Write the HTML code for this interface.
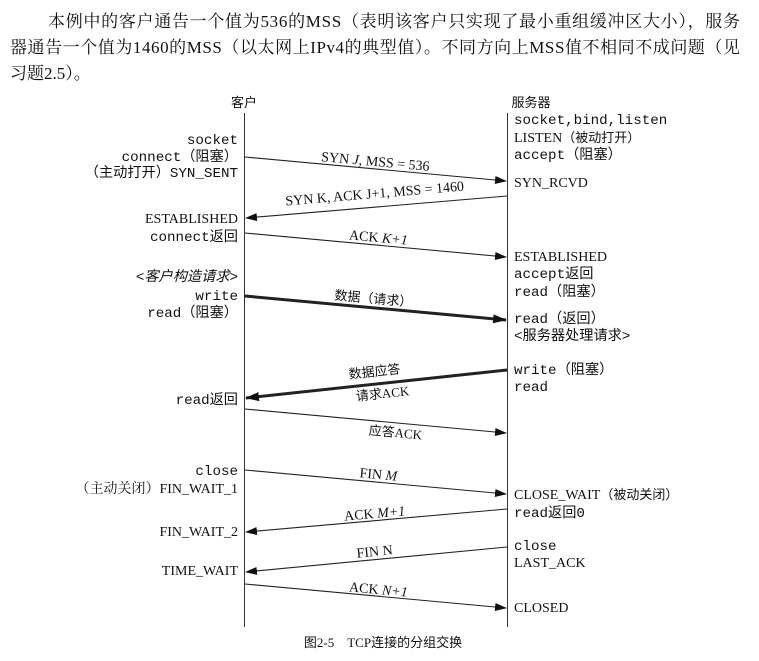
<!DOCTYPE html>
<html><head><meta charset="utf-8"><style>
body{margin:0;background:#fff;}
svg{display:block;}
.p{font-family:"Liberation Serif","Noto Serif CJK SC",serif;font-size:17px;fill:#111;}
.m{font-family:"Liberation Mono","Noto Sans CJK SC",monospace;font-size:14.2px;fill:#111;}
.s{font-family:"Liberation Serif","Noto Serif CJK SC",serif;font-size:14px;fill:#111;}
.c{font-family:"Liberation Serif","Noto Sans CJK SC",serif;font-size:13px;fill:#111;}
</style></head><body>
<svg width="759" height="661" viewBox="0 0 759 661" xmlns="http://www.w3.org/2000/svg">
<defs>
<marker id="a" markerWidth="12" markerHeight="8" refX="11" refY="4" orient="auto" markerUnits="userSpaceOnUse"><path d="M0,0 L12,4 L0,8 z" fill="#111"/></marker>
<marker id="b" markerWidth="14" markerHeight="9" refX="13" refY="4.5" orient="auto" markerUnits="userSpaceOnUse"><path d="M0,0 L14,4.5 L0,9 z" fill="#111"/></marker>
</defs>
<text class="p" x="48" y="27" textLength="692">本例中的客户通告一个值为536的MSS（表明该客户只实现了最小重组缓冲区大小），服务</text>
<text class="p" x="10" y="53" textLength="730">器通告一个值为1460的MSS（以太网上IPv4的典型值）。不同方向上MSS值不相同不成问题（见</text>
<text class="p" x="10" y="79">习题2.5）。</text>

<line x1="244.5" y1="113" x2="244.5" y2="627" stroke="#333" stroke-width="1"/>
<line x1="507.5" y1="113" x2="507.5" y2="627" stroke="#333" stroke-width="1"/>
<text class="c" x="244" y="107" text-anchor="middle">客户</text>
<text class="c" x="531" y="107" text-anchor="middle">服务器</text>

<g stroke="#222" fill="none">
<line x1="245" y1="157" x2="506" y2="181" stroke-width="1.1" marker-end="url(#a)"/>
<line x1="507" y1="196" x2="246" y2="218" stroke-width="1.1" marker-end="url(#a)"/>
<line x1="245" y1="233" x2="506" y2="257" stroke-width="1.1" marker-end="url(#a)"/>
<line x1="245" y1="296" x2="506" y2="320" stroke-width="3" marker-end="url(#b)"/>
<line x1="507" y1="370" x2="246" y2="398" stroke-width="3" marker-end="url(#b)"/>
<line x1="245" y1="409" x2="506" y2="433" stroke-width="1.1" marker-end="url(#a)"/>
<line x1="245" y1="470" x2="506" y2="494" stroke-width="1.1" marker-end="url(#a)"/>
<line x1="507" y1="509" x2="246" y2="532" stroke-width="1.1" marker-end="url(#a)"/>
<line x1="507" y1="547" x2="246" y2="572" stroke-width="1.1" marker-end="url(#a)"/>
<line x1="245" y1="584" x2="506" y2="608" stroke-width="1.1" marker-end="url(#a)"/>
</g>

<g text-anchor="middle">
<text class="s" transform="translate(375,166) rotate(5.2)"><tspan>SYN </tspan><tspan font-style="italic">J</tspan><tspan>, MSS = 536</tspan></text>
<text class="s" transform="translate(375,198) rotate(-4.8)">SYN K, ACK J+1, MSS = 1460</text>
<text class="s" transform="translate(378,242) rotate(5.2)">ACK <tspan font-style="italic">K+1</tspan></text>
<text class="c" transform="translate(373,303) rotate(5.2)">数据（请求）</text>
<text class="c" transform="translate(375,376) rotate(-6)">数据应答</text>
<text class="c" transform="translate(383,398) rotate(-6)">请求ACK</text>
<text class="c" transform="translate(395,437) rotate(5.2)">应答ACK</text>
<text class="s" transform="translate(378,479) rotate(5.2)">FIN <tspan font-style="italic">M</tspan></text>
<text class="s" transform="translate(375,518) rotate(-5)">ACK <tspan font-style="italic">M+1</tspan></text>
<text class="s" transform="translate(375,556) rotate(-5.5)">FIN N</text>
<text class="s" transform="translate(378,594) rotate(5.2)">ACK <tspan font-style="italic">N+1</tspan></text>
</g>

<g text-anchor="end">
<text class="m" x="238" y="144">socket</text>
<text class="m" x="238" y="161">connect（阻塞）</text>
<text class="m" x="238" y="177">（主动打开）SYN_SENT</text>
<text class="s" x="238" y="223">ESTABLISHED</text>
<text class="m" x="238" y="241">connect返回</text>
<text class="m" x="238" y="281" font-size="12" font-style="italic">&lt;客户构造请求&gt;</text>
<text class="m" x="238" y="300">write</text>
<text class="m" x="238" y="317">read（阻塞）</text>
<text class="m" x="238" y="404">read返回</text>
<text class="m" x="238" y="475">close</text>
<text class="s" x="238" y="493">（主动关闭）FIN_WAIT_1</text>
<text class="s" x="238" y="536">FIN_WAIT_2</text>
<text class="s" x="238" y="575">TIME_WAIT</text>
</g>

<g>
<text class="m" x="514" y="124">socket,bind,listen</text>
<text class="s" x="514" y="142">LISTEN<tspan class="c">（被动打开）</tspan></text>
<text class="m" x="514" y="159">accept（阻塞）</text>
<text class="s" x="514" y="187">SYN_RCVD</text>
<text class="s" x="514" y="261">ESTABLISHED</text>
<text class="m" x="514" y="278">accept返回</text>
<text class="m" x="514" y="296">read（阻塞）</text>
<text class="m" x="514" y="323">read（返回）</text>
<text class="m" x="514" y="340" font-size="12">&lt;服务器处理请求&gt;</text>
<text class="m" x="514" y="374">write（阻塞）</text>
<text class="m" x="514" y="391">read</text>
<text class="s" x="514" y="499">CLOSE_WAIT<tspan class="c">（被动关闭）</tspan></text>
<text class="m" x="514" y="517">read返回0</text>
<text class="m" x="514" y="550">close</text>
<text class="s" x="514" y="567">LAST_ACK</text>
<text class="s" x="514" y="612">CLOSED</text>
</g>

<text class="c" x="383" y="647" text-anchor="middle" font-size="14">图2-5　TCP连接的分组交换</text>
</svg>
</body></html>
